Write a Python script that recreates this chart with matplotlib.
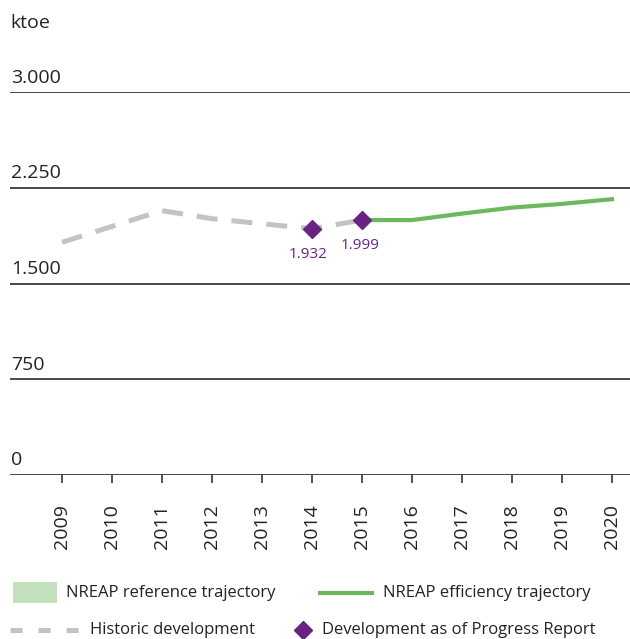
import matplotlib.pyplot as plt
from matplotlib.lines import Line2D
from matplotlib.patches import Rectangle

plt.rcParams['font.family'] = ['Open Sans', 'DejaVu Sans']

years = list(range(2009, 2021))
hist_years = [2009, 2010, 2011, 2012, 2013, 2014, 2015]
hist_values = [1825, 1950, 2073, 2010, 1970, 1932, 1999]
eff_years = [2015, 2016, 2017, 2018, 2019, 2020]
eff_values = [1999, 1999, 2050, 2097, 2126, 2163]
report_years = [2014, 2015]
report_values = [1932, 1999]
y_ticks = [0, 750, 1500, 2250, 3000]
y_labels = ["0", "750", "1.500", "2.250", "3.000"]

grey = "#c3c3c3"
green = "#6cb85c"
purple = "#6a2383"
light_green = "#c4e1bd"

fig = plt.figure(figsize=(6.3, 6.39), dpi=100)
ax = fig.add_axes([0.016, 0.2567, 0.984, 0.5986])

for t, lab in zip(y_ticks, y_labels):
    ax.axhline(t, color="#3a3a3a", lw=1.3, zorder=1)
    ax.text(2007.98, t + 45, lab, fontsize=14, color="#222222", va="bottom", ha="left")

ax.plot(hist_years, hist_values, color=grey, lw=3.6, dashes=(4.2, 2.8), zorder=2)
ax.plot(eff_years, eff_values, color=green, lw=3, zorder=3)
ax.plot(report_years, report_values, ls="none", marker="D", ms=9.5, color=purple, zorder=4)

ax.text(2014 - 0.08, 1932 - 200, "1.932", color=purple, fontsize=11, ha="center", va="center")
ax.text(2015 - 0.04, 1999 - 200, "1.999", color=purple, fontsize=11, ha="center", va="center")

ax.set_xlim(2007.96, 2020.36)
ax.set_ylim(0, 3000)
for s in ax.spines.values():
    s.set_visible(False)
ax.set_yticks([])
ax.set_xticks(years)
ax.set_xticklabels([str(y) for y in years], rotation=90, fontsize=14, color="#222222")
ax.tick_params(axis="x", length=6, width=1.2, color="#333333", pad=15)

fig.text(0.016, 0.964, "ktoe", fontsize=14, color="#222222", va="center", ha="left")

# legend drawn by hand in figure coordinates
W, H = 630, 639
def fx(px):
    return px / W
def fy(py):
    return 1 - py / H

fig.patches.append(Rectangle((fx(13), fy(603)), fx(44), 21 / H, transform=fig.transFigure,
                             facecolor=light_green, edgecolor="none"))
fig.text(fx(66), fy(593), "NREAP reference trajectory", fontsize=12, va="center", color="#222222")
fig.lines.append(Line2D([fx(320), fx(372)], [fy(593), fy(593)], transform=fig.transFigure,
                        color=green, lw=3))
fig.text(fx(383), fy(593), "NREAP efficiency trajectory", fontsize=12, va="center", color="#222222")
fig.lines.append(Line2D([fx(10), fx(79)], [fy(630), fy(630)], transform=fig.transFigure,
                        color=grey, lw=3.6, dashes=(2.4, 3.2)))
fig.text(fx(90), fy(630), "Historic development", fontsize=12, va="center", color="#222222")
fig.lines.append(Line2D([fx(303)], [fy(630)], transform=fig.transFigure, ls="none",
                        marker="D", ms=9.5, color=purple))
fig.text(fx(322), fy(630), "Development as of Progress Report", fontsize=12, va="center",
         color="#222222")

fig.savefig("out.png", dpi=100)
